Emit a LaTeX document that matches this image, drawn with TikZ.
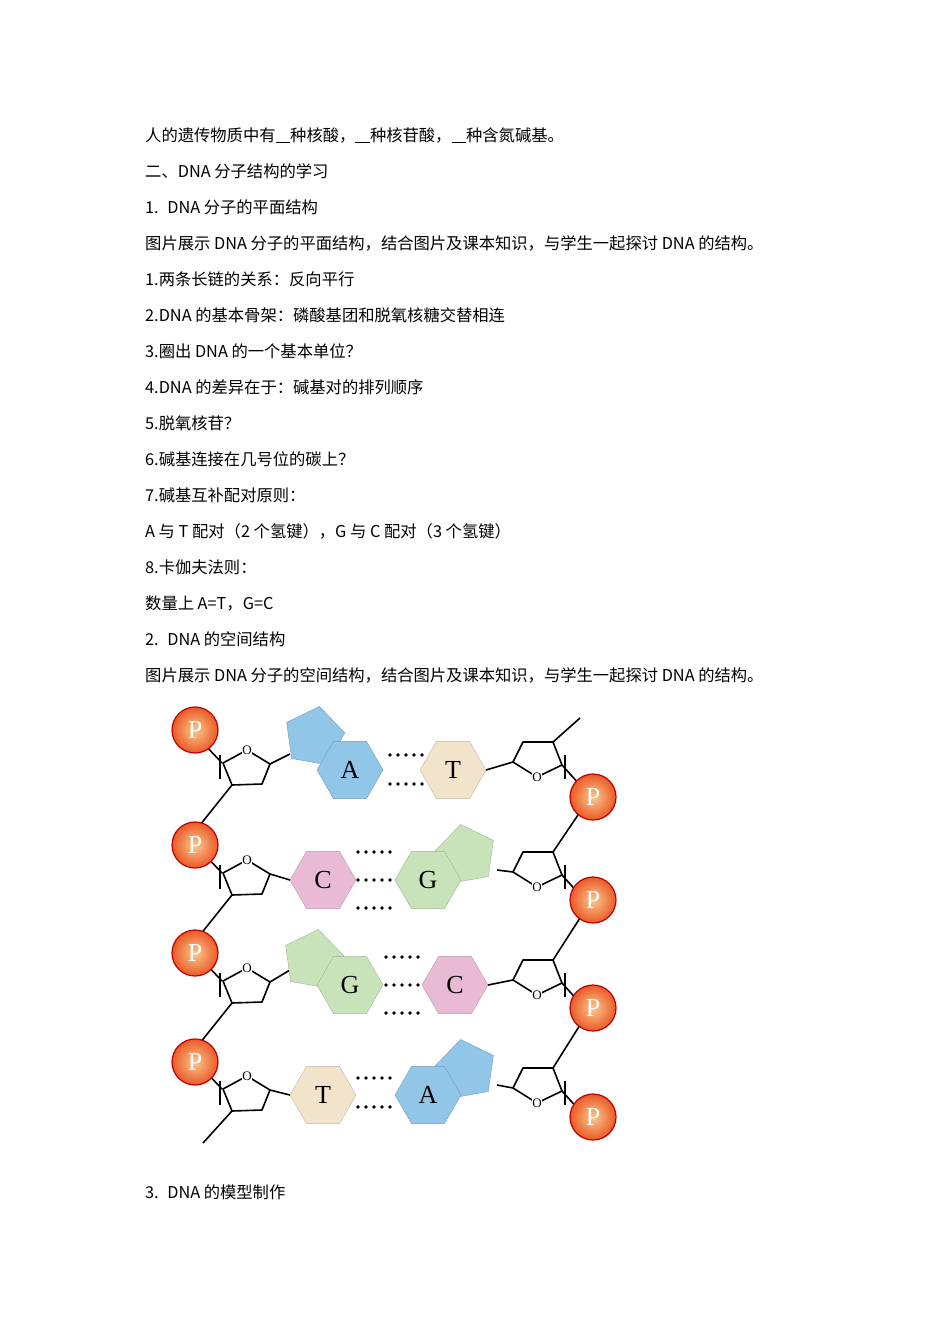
\documentclass[tikz,border=0pt]{standalone}
\usepackage{fontspec}
\setmainfont{Liberation Serif}
\newfontfamily\cjk{Noto Sans CJK SC}
\usetikzlibrary{shapes.geometric}
\definecolor{bA}{RGB}{145,198,232}\definecolor{bT}{RGB}{242,228,202}
\definecolor{bC}{RGB}{232,186,214}\definecolor{bG}{RGB}{200,226,186}
\definecolor{pin}{RGB}{250,200,140}\definecolor{pout}{RGB}{235,90,40}
\tikzset{
 txt/.style={anchor=base west,inner sep=0,font=\cjk\fontsize{16.3}{16}\selectfont},
 hexb/.style={regular polygon,regular polygon sides=6,minimum size=66,inner sep=0,draw=#1!80!black,fill=#1,font=\fontsize{26}{26}\selectfont},
 penb/.style={regular polygon,regular polygon sides=5,minimum size=62,inner sep=0,draw=#1!80!black,fill=#1},
 pnode/.style={circle,minimum size=46,inner sep=0,draw=red!75!black,line width=1.2pt,inner color=pin,outer color=pout,text=white,font=\fontsize{26}{26}\selectfont},
 bond/.style={line width=1.6pt,black},
 onode/.style={fill=white,inner sep=0.5pt,font=\fontsize{13}{13}\selectfont}
}
\newcommand{\hbonds}[3]{\foreach \k in {0,...,4}{\fill (#1+\k*8,#2) circle (1.8);}}
\begin{document}
\begin{tikzpicture}[x=1pt,y=-1pt]
\useasboundingbox (0,0) rectangle (950,1344);
\node[txt] at (145,141) {人的遗传物质中有\underline{\ \ \ \ }种核酸，\underline{\ \ \ \ }种核苷酸，\underline{\ \ \ \ }种含氮碱基。};
\node[txt] at (145,177) {二、DNA 分子结构的学习};
\node[txt] at (145,213) {1. \ DNA 分子的平面结构};
\node[txt] at (145,249) {图片展示 DNA 分子的平面结构，结合图片及课本知识，与学生一起探讨 DNA 的结构。};
\node[txt] at (145,285) {1.两条长链的关系：反向平行};
\node[txt] at (145,321) {2.DNA 的基本骨架：磷酸基团和脱氧核糖交替相连};
\node[txt] at (145,357) {3.圈出 DNA 的一个基本单位？};
\node[txt] at (145,393) {4.DNA 的差异在于：碱基对的排列顺序};
\node[txt] at (145,429) {5.脱氧核苷？};
\node[txt] at (145,465) {6.碱基连接在几号位的碳上？};
\node[txt] at (145,501) {7.碱基互补配对原则：};
\node[txt] at (145,537) {A 与 T 配对（2 个氢键），G 与 C 配对（3 个氢键）};
\node[txt] at (145,573) {8.卡伽夫法则：};
\node[txt] at (145,609) {数量上 A=T，G=C};
\node[txt] at (145,645) {2. \ DNA 的空间结构};
\node[txt] at (145,681) {图片展示 DNA 分子的空间结构，结合图片及课本知识，与学生一起探讨 DNA 的结构。};
\node[txt] at (145,1198) {3. \ DNA 的模型制作};
% sugars
\foreach \r/\i in {767/1,877/2,985/3,1093/4}{
 \draw[bond,line join=round] (223,\r-4) -- (247,\r-17) -- (270,\r-3) -- (262,\r+17) -- (232,\r+18) -- cycle;
 \node[onode] at (247,\r-17) {O};
 \draw[bond] (220,\r-12) -- (220,\r+12);
 \draw[bond] (205,\r-22) -- (222,\r-4);
 \draw[bond,line join=round] (513,\r-5) -- (523,\r-25) -- (553,\r-25) -- (562,\r-2) -- (537,\r+10) -- cycle;
 \node[onode] at (537,\r+10) {O};
 \draw[bond] (565,\r-12) -- (565,\r+12);
 \draw[bond] (562,\r-2) -- (580,\r+18);
}
% backbones
\draw[bond] (232,785) -- (200,825);
\draw[bond] (232,895) -- (200,935);
\draw[bond] (232,1003) -- (200,1043);
\draw[bond] (232,1111) -- (203,1143);
\draw[bond] (553,742) -- (580,718);
\draw[bond] (553,852) -- (580,812);
\draw[bond] (553,960) -- (580,918);
\draw[bond] (553,1068) -- (580,1025);
% phosphates
\foreach \y in {730,845,953,1062}{\node[pnode] at (195,\y) {P};}
\foreach \y in {797,900,1008,1117}{\node[pnode] at (593,\y) {P};}
% row 1 A-T
\draw[bond] (270,764) -- (290,754);
\node[penb=bA,rotate=-10] at (314,737) {};
\node[hexb=bA] at (350,770) {A};
\node[hexb=bT] at (453,770) {T};
\draw[bond] (486,770) -- (513,762);
\hbonds{390}{755}{}\hbonds{390}{784}{}
% row 2 C-G
\draw[bond] (270,874) -- (290,880);
\node[hexb=bC] at (323,880) {C};
\node[penb=bG,rotate=10] at (466,855) {};
\node[hexb=bG] at (428,880) {G};
\draw[bond] (497,870) -- (513,872);
\hbonds{358}{852}{}\hbonds{358}{880}{}\hbonds{358}{908}{}
% row 3 G-C
\draw[bond] (270,982) -- (290,970);
\node[penb=bG,rotate=-10] at (313,960) {};
\node[hexb=bG] at (350,985) {G};
\node[hexb=bC] at (455,985) {C};
\draw[bond] (488,985) -- (513,980);
\hbonds{386}{957}{}\hbonds{386}{985}{}\hbonds{386}{1013}{}
% row 4 T-A
\draw[bond] (270,1090) -- (290,1095);
\node[hexb=bT] at (323,1095) {T};
\node[penb=bA,rotate=10] at (466,1070) {};
\node[hexb=bA] at (428,1095) {A};
\draw[bond] (497,1085) -- (513,1088);
\hbonds{358}{1078}{}\hbonds{358}{1107}{}
\end{tikzpicture}
\end{document}
